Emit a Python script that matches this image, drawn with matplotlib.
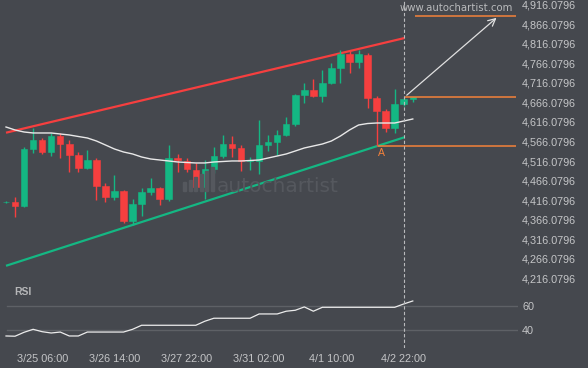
import matplotlib
matplotlib.use("Agg")
import matplotlib.pyplot as plt
import numpy as np
from matplotlib.patches import Rectangle

# ---------------- data ----------------
opens  = [4410.2, 4411.5, 4401.3, 4547.0, 4570.1, 4539.4, 4580.3, 4559.8, 4531.7, 4498.5,
          4518.9, 4452.4, 4424.3, 4439.6, 4362.9, 4406.4, 4437.1, 4447.3, 4419.2, 4524.0,
          4516.4, 4493.4, 4449.9, 4495.9, 4529.1, 4559.8, 4549.6, 4516.4, 4516.4, 4557.3,
          4565.0, 4582.9, 4611.0, 4685.1, 4697.9, 4682.6, 4715.8, 4754.2, 4790.0, 4769.5,
          4787.4, 4677.5, 4644.2, 4600.7, 4662.1, 4674.9]
highs  = [4413.0, 4424.3, 4552.2, 4600.7, 4575.2, 4588.0, 4588.0, 4570.1, 4539.4, 4544.5,
          4524.0, 4460.1, 4480.6, 4442.2, 4419.2, 4447.3, 4472.9, 4449.9, 4557.3, 4534.3,
          4524.0, 4511.3, 4518.9, 4552.2, 4582.9, 4580.3, 4557.3, 4526.6, 4621.2, 4582.9,
          4595.6, 4628.9, 4687.7, 4715.8, 4726.0, 4749.1, 4767.0, 4800.2, 4797.7, 4800.2,
          4792.5, 4682.6, 4649.4, 4700.5, 4680.0, 4680.0]
lows   = [4408.9, 4373.1, 4398.7, 4536.8, 4534.3, 4529.1, 4524.0, 4488.2, 4488.2, 4497.0,
          4416.6, 4411.5, 4416.6, 4357.8, 4352.7, 4375.7, 4429.4, 4403.8, 4414.0, 4488.2,
          4488.2, 4444.8, 4419.2, 4485.7, 4524.0, 4526.6, 4490.8, 4493.4, 4483.1, 4541.9,
          4531.7, 4580.3, 4605.9, 4664.7, 4680.0, 4667.2, 4713.3, 4715.8, 4741.4, 4754.2,
          4651.9, 4554.7, 4590.5, 4588.0, 4657.0, 4667.2]
closes = [4411.5, 4401.3, 4547.0, 4570.1, 4539.4, 4580.3, 4559.8, 4531.7, 4498.5, 4518.9,
          4452.4, 4424.3, 4439.6, 4362.9, 4406.4, 4437.1, 4447.3, 4419.2, 4524.0, 4518.9,
          4495.9, 4449.9, 4495.9, 4529.1, 4559.8, 4549.6, 4516.4, 4517.6, 4557.3, 4565.0,
          4582.9, 4611.0, 4685.1, 4697.9, 4682.6, 4715.8, 4754.2, 4790.0, 4769.5, 4790.0,
          4677.5, 4644.2, 4600.7, 4662.1, 4674.9, 4680.0]

ma_values = [4603.3, 4595.6, 4590.5, 4588.0, 4588.0, 4588.0, 4585.4, 4582.9, 4579.0, 4575.2,
             4567.5, 4557.3, 4547.0, 4539.4, 4534.3, 4526.6, 4521.5, 4518.9, 4516.4, 4513.8,
             4512.5, 4511.3, 4511.3, 4513.8, 4515.1, 4516.4, 4516.4, 4517.6, 4518.9, 4524.0,
             4529.1, 4534.3, 4541.9, 4549.6, 4554.7, 4559.8, 4567.5, 4580.3, 4595.6, 4608.4,
             4612.2, 4613.5, 4613.5, 4613.5, 4618.6, 4623.8]

rsi_values = [35.2, 35.0, 38.3, 40.8, 38.8, 37.7, 38.5, 35.2, 35.2, 38.5,
              38.5, 38.5, 38.5, 38.5, 40.8, 44.2, 44.2, 44.2, 44.2, 44.2,
              44.2, 44.2, 47.6, 50.1, 50.1, 50.1, 50.1, 50.1, 53.7, 53.7,
              53.7, 56.0, 56.8, 59.6, 56.0, 59.3, 59.3, 59.3, 59.3, 59.3,
              59.3, 59.3, 59.3, 59.3, 62.1, 64.6]

time_tick_index = [4, 12, 20, 28, 36, 44]
time_tick_labels = ["3/25 06:00", "3/26 14:00", "3/27 22:00", "3/31 02:00", "4/1 10:00", "4/2 22:00"]

price_ticks = [4916.0796, 4866.0796, 4816.0796, 4766.0796, 4716.0796, 4666.0796, 4616.0796,
               4566.0796, 4516.0796, 4466.0796, 4416.0796, 4366.0796, 4316.0796, 4266.0796,
               4216.0796]
rsi_ticks = [60, 40]

# channel (resistance / support) end points: (bar index, price)
resistance_line = [(0.0, 4588.7), (44.1, 4830.9)]
support_line = [(0.0, 4248.3), (44.1, 4577.2)]
# pattern levels: (price, start index)
target_level = (4887.2, 45.2)
entry_level = (4680.0, 44.1)
point_a_level = (4554.7, 41.2)
levels_end = 56.4
arrow_start = (44.1, 4680.0)
arrow_end = (54.5, 4887.2)
point_a = (41.5, 4536.8)
now_index = 44.05

# ---------------- styling ----------------
BG = "#45484e"
GREEN = "#14b783"
RED = "#f63f3f"
ORANGE = "#f5823a"
TXT = "#c4c5c7"

W, H = 588, 368
fig = plt.figure(figsize=(W / 100, H / 100), dpi=100, facecolor=BG)

ax_w = 518 / W
ax = fig.add_axes([0, (H - 288) / H, ax_w, 288 / H], facecolor=BG)
axr = fig.add_axes([0, (H - 348) / H, ax_w, 60 / H], facecolor=BG, sharex=ax)

for a in (ax, axr):
    for s in a.spines.values():
        s.set_visible(False)

ax.set_xlim(-0.664, 56.64)
ax.set_ylim(4191.5, 4928.1)
axr.set_ylim(25.1, 75.5)

# watermark
fig.text(217 / W, 1 - 186 / H, "autochartist", fontsize=14.5, color="#55585e",
         ha="left", va="center", family="DejaVu Sans", zorder=0)
logo_heights = [9, 11, 14, 17, 20, 24]
for k, hgt in enumerate(logo_heights):
    fig.patches.append(Rectangle(((183 + k * 5.5) / W, (H - 191) / H), 3.2 / W, hgt / H,
                                 transform=fig.transFigure, color="#55585e", zorder=0))

idx = np.arange(len(opens))
o = np.array(opens); c = np.array(closes); hi = np.array(highs); lo = np.array(lows)
up = c >= o
colors = np.where(up, GREEN, RED)

ax.vlines(idx, lo, hi, colors=colors, linewidth=1.0, zorder=3)
ax.bar(idx, np.abs(c - o), bottom=np.minimum(o, c), width=0.72, color=colors,
       edgecolor=colors, linewidth=0.4, zorder=4)

# moving average
ax.plot(idx, ma_values, color="#e8e8e8", linewidth=1.0, zorder=5)

# channel lines
ax.plot([p[0] for p in resistance_line], [p[1] for p in resistance_line], color=RED, lw=1.6, zorder=2,
        solid_capstyle="butt")
ax.plot([p[0] for p in support_line], [p[1] for p in support_line], color=GREEN, lw=1.6, zorder=2,
        solid_capstyle="butt")

# levels
for price, start in (target_level, entry_level, point_a_level):
    ax.hlines(price, start, levels_end, color=ORANGE, lw=1.1, zorder=6)

ax.annotate("", xy=arrow_end, xytext=arrow_start,
            arrowprops=dict(arrowstyle="->", color="#e0e0e0", lw=0.9, mutation_scale=13), zorder=7)
ax.text(point_a[0], point_a[1], "A", color=ORANGE, fontsize=7.5, ha="center", va="center",
        family="Liberation Sans")

# now line
for a in (ax, axr):
    a.axvline(now_index, color="#b9babc", lw=0.8, linestyle=(0, (3, 2)), zorder=8)

# price axis
ax.yaxis.tick_right()
ax.set_yticks(price_ticks)
ax.set_yticklabels([f"{v:,.4f}" for v in price_ticks])
ax.tick_params(axis="y", length=0, pad=3, labelcolor=TXT, labelsize=7.8)
ax.tick_params(axis="x", length=0, labelbottom=False)
for lab in ax.get_yticklabels():
    lab.set_family("Liberation Sans")

fig.text(513 / W, 1 - 8 / H, "www.autochartist.com", ha="right", va="center",
         fontsize=7.3, color="#b9babc", family="DejaVu Sans")

# RSI panel
axr.plot(idx, rsi_values, color="#ececec", lw=0.9, zorder=5)
for v in rsi_ticks:
    axr.axhline(v, color="#5e6166", lw=1.0, zorder=1, xmin=7 / 518)
axr.yaxis.tick_right()
axr.set_yticks(rsi_ticks)
axr.set_yticklabels([str(v) for v in rsi_ticks])
axr.tick_params(axis="y", length=0, pad=3, labelcolor=TXT, labelsize=7.8)
axr.set_xticks(time_tick_index)
axr.set_xticklabels(time_tick_labels)
axr.tick_params(axis="x", length=0, pad=4, labelcolor=TXT, labelsize=7.8)
for lab in axr.get_yticklabels() + axr.get_xticklabels():
    lab.set_family("Liberation Sans")
fig.text(14 / W, 1 - 292 / H, "RSI", ha="left", va="center", fontsize=7.5,
         color="#b5b6b8", fontweight="bold", family="Liberation Sans")

fig.savefig("out.png", dpi=100, facecolor=BG)
